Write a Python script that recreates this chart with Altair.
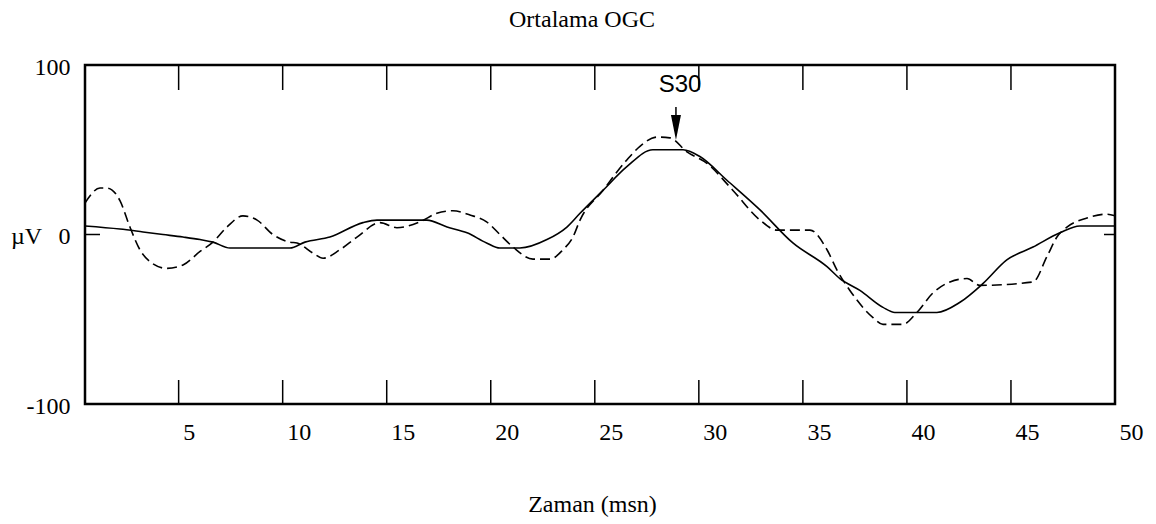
import altair as alt
import pandas as pd

# --- data ---
solid_t = [0.5, 2.18, 3.29, 4.25, 5.21, 6.03, 6.65, 7.47, 10.35, 11.07, 12.27, 13.86, 14.53,
           16.93, 17.9, 18.86, 19.8, 20.44, 21.4, 22.7, 23.66, 24.29, 25.39, 26.54, 27.79,
           29.24, 30.05, 31.35, 32.94, 34.52, 36.16, 36.78, 37.74, 38.85, 39.42, 41.44,
           42.55, 43.65, 44.8, 46.06, 47.35, 48.31, 50.0]
solid_v = [5, 3.2, 1.5, 0, -1.5, -3, -4.5, -8, -8, -4.5, -1.5, 7, 8.5,
           8.5, 4.4, 1, -5, -8, -8, -3, 4.4, 12.5, 26, 40, 50,
           50, 46, 32, 14.5, -5, -19, -26, -33, -43, -46, -46,
           -40, -29, -15, -7.4, 1, 5, 5]

dash_t = [0.5, 1.22, 1.56, 2.18, 2.66, 3.14, 3.62, 4.44, 5.21, 6.03, 6.65, 7.32, 8.09,
          8.77, 9.53, 10.35, 10.69, 11.46, 11.94, 12.75, 13.57, 14.68, 15.49, 16.6,
          17.41, 18.18, 19.0, 19.8, 20.44, 21.07, 22.03, 22.85, 23.47, 23.95, 24.29,
          25.39, 26.54, 27.17, 27.99, 28.61, 29.43, 30.39, 31.64, 32.94, 33.75, 35.34,
          36.16, 36.64, 37.26, 38.37, 38.85, 39.81, 40.48, 41.25, 42.07, 42.89, 43.5,
          46.06, 46.73, 47.21, 47.69, 48.65, 49.61, 50.0]
dash_v = [18.6, 27.4, 27.4, 20, 4.4, -9, -16, -20, -18, -10, -4.5, 4.4, 11,
          8.5, 0, -4.5, -5, -11, -14, -9, -1.5, 7, 4, 7.5,
          12.5, 14, 11.5, 7.5, 0, -7.4, -14.5, -14.5, -9, -1.5, 8.5,
          26, 44, 52, 57.5, 57, 48.7, 42, 26, 8.5, 2.6, 2.6,
          -9, -21, -33, -49, -53, -53, -46, -34.5, -28, -26, -30,
          -28, -13, -1.5, 4.4, 9.7, 12, 11]

x_ticks = [5, 10, 15, 20, 25, 30, 35, 40, 45, 50]
y_ticks_left = [100, 0, -100]
y_ticks_right = [100, 0]

ann_label = ["S30"]
ann_t = [29.1]
ann_text_v = [84]
arrow_t = [28.9]
arrow_top_v = [75.2]
arrow_bot_v = [69]
arrow_head_v = [63.1]

title_txt = "Ortalama OGC"
x_title = "Zaman (msn)"
y_title = "µV"

SERIF = "Liberation Serif"
SANS = "Liberation Sans"
W, H = 1030, 339

solid_df = pd.DataFrame({"t": solid_t, "v": solid_v})
dash_df = pd.DataFrame({"t": dash_t, "v": dash_v})
xt_df = pd.DataFrame({"t": x_ticks})
ytl_df = pd.DataFrame({"v": y_ticks_left})
ytr_df = pd.DataFrame({"v": y_ticks_right})
ann_df = pd.DataFrame({"t": ann_t, "v": ann_text_v, "label": ann_label})
arr_df = pd.DataFrame({"t": arrow_t, "v": arrow_top_v, "v2": arrow_bot_v, "vh": arrow_head_v})

xscale = alt.Scale(domain=[0.5, 50], nice=False, zero=False)
yscale = alt.Scale(domain=[-100, 100], nice=False)

x_axis = alt.Axis(values=x_ticks, tickSize=0, domain=False, grid=False, labelAlign="left",
                  labelOffset=4, labelBaseline="top", labelPadding=16, labelFont=SERIF,
                  labelFontSize=24, labelColor="black", labelFlush=False,
                  title=x_title, titleFont=SERIF, titleFontSize=24, titleFontWeight="normal",
                  titleColor="black", titleX=507, titleY=107, titleAlign="center",
                  titleBaseline="alphabetic")
y_axis = alt.Axis(values=y_ticks_left, tickSize=0, domain=False, grid=False,
                  labelPadding=15, labelFont=SERIF, labelFontSize=24, labelColor="black",
                  labelBaseline="middle", labelFlush=False, labelOffset=2,
                  labelExpr="datum.value + ''",
                  title=y_title, titleFont=SERIF, titleFontSize=24, titleFontWeight="normal",
                  titleColor="black", titleAngle=0, titleX=-59, titleY=171,
                  titleAlign="center", titleBaseline="middle")


def X(field="t"):
    return alt.X(f"{field}:Q", scale=xscale, axis=x_axis)


def Y(field="v"):
    return alt.Y(f"{field}:Q", scale=yscale, axis=y_axis)


solid = alt.Chart(solid_df).mark_line(color="black", strokeWidth=1.6,
                                      interpolate="monotone").encode(x=X(), y=Y())
dashed = alt.Chart(dash_df).mark_line(color="black", strokeWidth=1.6, strokeDash=[10, 5],
                                      interpolate="monotone").encode(x=X(), y=Y())
top_ticks = alt.Chart(xt_df).mark_rule(color="black", strokeWidth=1.5).encode(
    x=X(), y=alt.value(0), y2=alt.value(25))
bot_ticks = alt.Chart(xt_df).mark_rule(color="black", strokeWidth=1.5).encode(
    x=X(), y=alt.value(H - 24), y2=alt.value(H))
left_ticks = alt.Chart(ytl_df).mark_rule(color="black", strokeWidth=1.5).encode(
    y=Y(), x=alt.value(0), x2=alt.value(15))
right_ticks = alt.Chart(ytr_df).mark_rule(color="black", strokeWidth=1.5).encode(
    y=Y(), x=alt.value(W - 11), x2=alt.value(W))

ann_text = alt.Chart(ann_df).mark_text(font=SANS, fontSize=24, color="black",
                                      align="center", baseline="alphabetic").encode(
    x=X(), y=Y(), text="label:N")
arrow_line = alt.Chart(arr_df).mark_rule(color="black", strokeWidth=1.5).encode(
    x=X(), y=Y(), y2="v2:Q")
arrow_head = alt.Chart(arr_df).mark_point(shape="M-0.4,-1L0.4,-1L0,1Z", filled=True,
                                          size=625, color="black", opacity=1).encode(
    x=X(), y=Y("vh"))

chart = alt.layer(solid, dashed, top_ticks, bot_ticks, left_ticks, right_ticks,
                  ann_text, arrow_line, arrow_head).properties(
    width=W, height=H,
    title=alt.Title(title_txt, font=SERIF, fontSize=24, fontWeight="normal", color="black",
                    anchor="middle", dx=-18, offset=4, baseline="alphabetic"),
    autosize=alt.AutoSizeParams(type="none"),
    padding={"left": 85, "top": 65, "right": 41, "bottom": 120},
    background="white",
).configure_view(stroke="black", strokeWidth=2.5)

chart.save("out.html", embed_options={"renderer": "svg", "actions": False})
